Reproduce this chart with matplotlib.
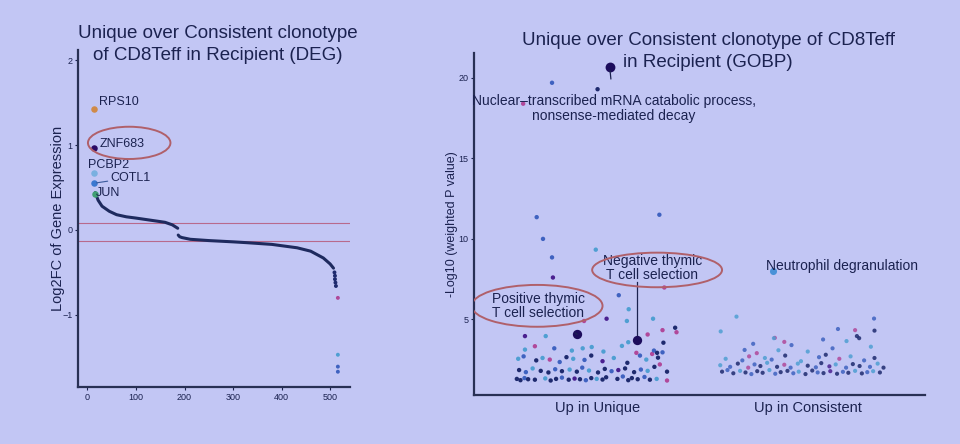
import matplotlib
matplotlib.use('Agg')
import matplotlib.pyplot as plt
from matplotlib.patches import Ellipse

plt.rcParams['font.family'] = ['Liberation Sans', 'DejaVu Sans']

BG = '#c2c6f4'
INK = '#1b2250'
RING = '#b0606a'
PAL = {'n': '#1e2a6e', 'b': '#3f62c0', 'c': '#4f9fd2', 'm': '#b0489a', 'p': '#4a2090'}

# ---------------- left panel: DEG ranked log2FC ----------------
deg_up_rank = [16, 18, 22, 30, 45, 60, 80, 100, 130, 160, 175, 186]
deg_up_fc = [0.44, 0.41, 0.35, 0.28, 0.22, 0.18, 0.155, 0.14, 0.115, 0.09, 0.06, 0.02]
deg_down_rank = [187, 190, 195, 212, 250, 300, 329, 380, 432, 460, 486, 500, 507]
deg_down_fc = [-0.06, -0.08, -0.09, -0.11, -0.125, -0.14, -0.15, -0.17, -0.21, -0.25, -0.33, -0.40, -0.45]
deg_tail_rank = [509, 510, 510, 511, 512, 516, 516, 516, 516]
deg_tail_fc = [-0.50, -0.54, -0.58, -0.62, -0.66, -0.80, -1.47, -1.61, -1.67]
deg_tail_col = 'nnnnnmcbb'
deg_cutoffs = [0.08, -0.13]

top_genes = ['RPS10', 'ZNF683', 'PCBP2', 'COTL1', 'JUN']
top_rank = [14, 13, 13, 13, 15]
top_fc = [1.42, 0.96, 0.67, 0.55, 0.42]
top_colors = ['#d08a48', '#2a0a66', '#7ab0e0', '#3a78d0', '#3f9f72']
top_offsets = [(3.1, 5.3), (4.3, 3.1), (-4.0, 6.0), (12.0, 4.0), (0.5, 1.0)]

deg_xticks = [0, 100, 200, 300, 400, 500]
deg_yticks = [-1, 0, 1, 2]

# ---------------- right panel: GOBP ----------------
go_groups = ['Up in Unique', 'Up in Consistent']
go_group_x = [27.5, 74.1]

uniq_x = [
    # bottom row
    9.5, 10.3, 11.2, 12.0, 13.5, 15.8, 17.0, 18.2, 19.5, 21.0, 22.3, 23.5, 24.8,
    26.0, 27.2, 28.5, 29.3, 31.8, 33.0, 34.2, 35.0, 36.3, 37.8, 39.0, 40.5, 42.8,
    # second row
    10.0, 11.5, 13.0, 14.8, 16.5, 18.0, 19.5, 21.2, 22.8, 24.0, 25.5, 27.5, 29.0,
    30.5, 32.0, 33.5, 35.5, 37.0, 38.5, 40.0, 41.2, 42.8,
    # third row
    9.8, 11.0, 13.8, 15.2, 16.8, 19.0, 20.5, 22.0, 24.5, 26.0, 28.5, 31.0, 34.0,
    36.8, 38.2, 39.5, 40.8, 41.8,
    # sparse
    13.5, 11.3, 21.7, 24.1, 26.1, 28.7, 39.9, 40.6, 34.2, 17.8, 32.8, 42.0,
    # outliers
    17.3, 27.4, 10.9, 13.9, 15.3, 17.3, 17.5, 27.0, 41.1, 42.2, 32.1, 34.3, 33.9,
    29.4, 24.4, 39.7, 44.6, 44.9, 41.8, 38.5, 11.3, 15.9, 36.0,
]
uniq_y = [
    1.30, 1.22, 1.35, 1.28, 1.25, 1.33, 1.20, 1.30, 1.38, 1.25, 1.32, 1.28, 1.22,
    1.35, 1.30, 1.26, 1.40, 1.30, 1.45, 1.22, 1.35, 1.28, 1.42, 1.25, 1.30, 1.20,
    1.85, 1.72, 1.95, 1.80, 1.70, 1.90, 1.78, 1.88, 1.75, 2.00, 1.82, 1.70, 1.92,
    1.78, 1.85, 1.95, 1.72, 1.88, 1.80, 2.05, 2.20, 1.75,
    2.55, 2.70, 2.45, 2.60, 2.50, 2.35, 2.65, 2.55, 2.48, 2.75, 2.40, 2.60, 2.30,
    2.75, 2.50, 2.85, 2.62, 2.95,
    3.33, 3.12, 3.06, 3.20, 3.28, 3.00, 3.06, 2.92, 3.58, 3.20, 3.35, 3.55,
    19.7, 19.3, 18.4, 11.35, 10.0, 8.85, 7.6, 9.33, 11.5, 6.98, 6.5, 5.63, 4.9,
    5.04, 4.9, 5.04, 4.48, 4.2, 4.33, 4.06, 3.96, 3.96, 2.92,
]
uniq_col = ('nnbnncnnbnpnbncnnnbnnnbncm'
            'nbcnnbncnbcnnbpnnbcnmn'
            'cbncmbncbnpcnbcmnb'
            'mcccccbncbcn'
            'bnmbbbpcbmbccpmcnmmmpcm')

cons_x = [
    # bottom row
    55.0, 56.2, 57.5, 59.0, 60.2, 61.5, 62.8, 64.0, 65.5, 66.8, 68.0, 69.5, 70.8,
    72.0, 73.5, 75.0, 76.2, 77.5, 79.0, 80.5, 81.8, 83.0, 84.5, 86.0, 87.2, 88.5, 90.0,
    # second row
    54.6, 56.8, 58.5, 60.8, 62.2, 63.5, 65.0, 67.2, 68.8, 70.2, 71.8, 74.0, 75.8,
    77.0, 78.8, 80.2, 82.5, 84.0, 85.5, 87.8, 89.5, 90.8,
    # third row
    55.8, 59.5, 61.0, 64.5, 66.0, 69.0, 72.5, 76.5, 78.0, 81.0, 83.5, 86.5, 88.8,
    # sparse / outliers
    54.7, 58.2, 61.9, 62.7, 66.7, 67.5, 68.8, 70.4, 77.4, 80.7, 82.6, 84.5, 84.9,
    60.0, 74.0, 79.5, 88.0, 88.7, 88.8, 66.5, 85.4,
]
cons_y = [
    1.75, 1.85, 1.65, 1.80, 1.70, 1.60, 1.78, 1.68, 1.85, 1.62, 1.72, 1.80, 1.65,
    1.75, 1.60, 1.82, 1.70, 1.66, 1.78, 1.62, 1.74, 1.68, 1.80, 1.64, 1.72, 1.78, 1.70,
    2.15, 2.05, 2.25, 2.00, 2.20, 2.10, 2.30, 2.05, 2.18, 2.00, 2.25, 2.12, 2.02,
    2.28, 2.08, 2.20, 2.00, 2.22, 2.10, 2.05, 2.25, 2.00,
    2.55, 2.45, 2.70, 2.60, 2.50, 2.75, 2.40, 2.65, 2.80, 2.55, 2.70, 2.45, 2.60,
    4.25, 5.17, 3.48, 2.90, 3.85, 3.08, 3.60, 3.40, 3.75, 4.40, 3.65, 4.33, 3.96,
    3.10, 3.00, 3.20, 3.30, 5.05, 4.30, 3.83, 3.83,
]
cons_col = ('nbncnbnncbnnbcnnbnpnbncnbcn'
            'cbnmbncnmbcnbnpcbnnbcn'
            'cbmcbncbnmcbn'
            'ccbmmcmbbbcmnbcbcbncn')

go_hits = ['Nuclear\u2013transcribed mRNA catabolic process,\nnonsense-mediated decay',
           'Positive thymic\nT cell selection',
           'Negative thymic\nT cell selection',
           'Neutrophil degranulation']
go_hit_x = [30.1, 22.9, 36.1, 66.3]
go_hit_y = [20.65, 4.06, 3.69, 8.0]
go_hit_colors = ['#1c0c5c', '#1c0c5c', '#1c0c5c', '#4a92d8']

# ---------------- figure ----------------
fig = plt.figure(figsize=(9.6, 4.44), dpi=100, facecolor=BG)
W, H = 960.0, 444.0


def axes_px(x0, y0, x1, y1):
    return fig.add_axes([x0 / W, 1 - y1 / H, (x1 - x0) / W, (y1 - y0) / H])


def style(ax):
    ax.set_facecolor(BG)
    for s in ('top', 'right'):
        ax.spines[s].set_visible(False)
    for s in ('left', 'bottom'):
        ax.spines[s].set_color('#283054')
        ax.spines[s].set_linewidth(1.6)


# ----- left -----
axL = axes_px(78, 50, 350, 387)
style(axL)
axL.set_xlim(-19.5, 541)
axL.set_ylim(-1.85, 2.12)
for c in deg_cutoffs:
    axL.axhline(c, color='#b86a8c', lw=0.8, zorder=1)
axL.plot(deg_up_rank, deg_up_fc, color='#1e2a5e', lw=2.2, solid_capstyle='round', zorder=3)
axL.plot(deg_down_rank, deg_down_fc, color='#1e2a5e', lw=2.2, solid_capstyle='round', zorder=3)
axL.scatter(deg_tail_rank, deg_tail_fc, s=8, c=[PAL[k] for k in deg_tail_col], zorder=3, linewidths=0)
for g, r, v, col, off in zip(top_genes, top_rank, top_fc, top_colors, top_offsets):
    axL.scatter([r], [v], s=22, color=col, zorder=4, linewidths=0)
    ap = dict(arrowstyle='-', color='#3a5a9a', lw=0.8, shrinkA=0, shrinkB=2) if g == 'COTL1' else None
    axL.annotate(g, (r, v), xytext=off, textcoords='offset points', ha='left', va='center',
                 fontsize=9, color=INK, arrowprops=ap, zorder=5)
axL.add_patch(Ellipse((86, 1.026), 170, 0.38, fill=False, ec=RING, lw=1.4, zorder=5))
axL.set_xticks(deg_xticks)
axL.set_yticks(deg_yticks)
axL.tick_params(labelsize=6.5, colors=INK, length=2, width=0.8, pad=2)
axL.set_ylabel('Log2FC of Gene Expression', fontsize=10.5, color=INK, labelpad=-2)

fig.text(218 / W, 1 - 44.5 / H, 'Unique over Consistent clonotype\nof CD8Teff in Recipient (DEG)',
         ha='center', va='center', fontsize=13.5, color=INK, linespacing=1.45)

# ----- right -----
axR = axes_px(474, 53, 925, 395)
style(axR)
axR.set_xlim(0, 100)
axR.set_ylim(0.3, 21.55)
axR.scatter(uniq_x, uniq_y, s=10, c=[PAL[k] for k in uniq_col], linewidths=0, zorder=3)
axR.scatter(cons_x, cons_y, s=9, c=[PAL[k] for k in cons_col], linewidths=0, zorder=3, alpha=0.85)
sizes = [50, 45, 45, 26]
for x, y, col, s in zip(go_hit_x, go_hit_y, go_hit_colors, sizes):
    axR.scatter([x], [y], s=s, color=col, zorder=4, linewidths=0)

# labels / leader lines
axR.annotate(go_hits[0], (go_hit_x[0], go_hit_y[0]), xytext=(31.0, 18.1), textcoords='data',
             ha='center', va='center', fontsize=10, color=INK, linespacing=1.05,
             arrowprops=dict(arrowstyle='-', color=INK, lw=0.9, shrinkA=9, shrinkB=2), zorder=5)
axR.annotate(go_hits[1], (go_hit_x[1], go_hit_y[1]), xytext=(14.2, 5.8), textcoords='data',
             ha='center', va='center', fontsize=10, color=INK, linespacing=1.0,
             arrowprops=dict(arrowstyle='-', color=INK, lw=0.9, shrinkA=12, shrinkB=2), zorder=5)
axR.text(39.5, 8.2, go_hits[2], ha='center', va='center', fontsize=10, color=INK,
         linespacing=1.0, zorder=5)
axR.plot([go_hit_x[2], go_hit_x[2]], [7.3, go_hit_y[2]], color=INK, lw=0.9, zorder=3)
axR.annotate(go_hits[3], (go_hit_x[3], go_hit_y[3]), xytext=(-5, 4), textcoords='offset points',
             ha='left', va='center', fontsize=10, color=INK, zorder=5)
axR.add_patch(Ellipse((40.6, 8.07), 28.8, 2.15, fill=False, ec=RING, lw=1.4, zorder=5))
axR.add_patch(Ellipse((14.0, 5.84), 29.0, 2.6, fill=False, ec=RING, lw=1.4, zorder=5))

axR.set_yticks([5, 10, 15, 20])
axR.set_xticks(go_group_x)
axR.set_xticklabels(go_groups, fontsize=10.5, color=INK)
axR.tick_params(axis='x', length=0, pad=4)
axR.tick_params(axis='y', labelsize=6.5, colors=INK, length=2, width=0.8, pad=2)
axR.set_ylabel('-Log10 (weighted P value)', fontsize=9, color=INK, labelpad=0)

fig.text(708 / W, 1 - 51.5 / H, 'Unique over Consistent clonotype of CD8Teff\nin Recipient (GOBP)',
         ha='center', va='center', fontsize=13.5, color=INK, linespacing=1.35)

fig.savefig('out.png', dpi=100, facecolor=BG)
